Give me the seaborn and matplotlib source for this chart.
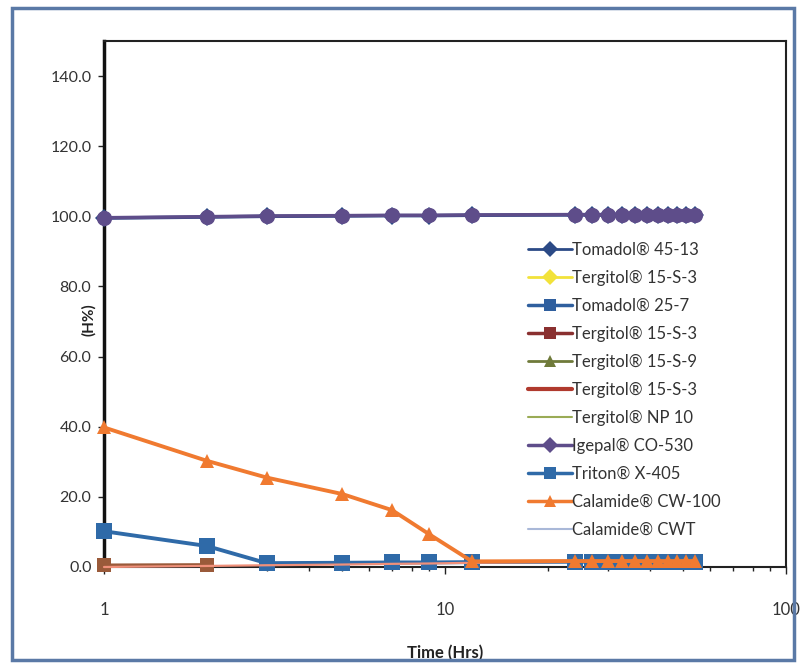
import numpy as np
import pandas as pd
import seaborn as sns
import matplotlib
matplotlib.use("Agg")
import matplotlib.pyplot as plt
from matplotlib.lines import Line2D
from matplotlib.patches import Rectangle
from matplotlib.ticker import FixedLocator, LogLocator, NullFormatter

# ---- data ----
time_hrs = [1, 2, 3, 5, 7, 9, 12, 24, 27, 30, 33, 36, 39, 42, 45, 48, 51, 54]
tomadol_45_13 = [99.5, 99.8, 100.0, 100.1, 100.2, 100.2, 100.3, 100.4, 100.4, 100.4,
                 100.4, 100.4, 100.5, 100.5, 100.5, 100.5, 100.5, 100.5]
igepal_co_530 = [99.6, 99.9, 100.1, 100.2, 100.3, 100.3, 100.4, 100.5, 100.5, 100.5,
                 100.5, 100.5, 100.5, 100.5, 100.5, 100.5, 100.5, 100.5]
triton_x_405 = [10.2, 6.0, 1.1, 1.2, 1.3, 1.3, 1.4, 1.5, 1.5, 1.5,
                1.5, 1.5, 1.5, 1.5, 1.5, 1.5, 1.5, 1.5]
calamide_cw_100 = [39.8, 30.3, 25.5, 20.8, 16.2, 9.3, 1.6, 1.7, 1.7, 1.7,
                   1.7, 1.7, 1.7, 1.7, 1.7, 1.7, 1.7, 1.7]
tergitol_15s3_sq = [0.6, 0.7]
tergitol_15s3_line = [0.0, 0.3, 0.5, 0.7, 0.9, 1.0, 1.2, 1.5, 1.5, 1.5,
                      1.5, 1.5, 1.5, 1.5, 1.5, 1.5, 1.5, 1.5]

legend_labels = ["Tomadol\u00ae 45-13", "Tergitol\u00ae 15-S-3", "Tomadol\u00ae 25-7",
                 "Tergitol\u00ae 15-S-3", "Tergitol\u00ae 15-S-9", "Tergitol\u00ae 15-S-3",
                 "Tergitol\u00ae NP 10", "Igepal\u00ae CO-530", "Triton\u00ae X-405",
                 "Calamide\u00ae CW-100", "Calamide\u00ae CWT"]
legend_colors = ["#2b4a86", "#f2e23a", "#2f5f9e", "#8a3030", "#6f7a3a", "#b03a2e",
                 "#9aab55", "#5e4d8a", "#2f6aa8", "#f07a30", "#a9b8d8"]
legend_markers = ["D", "D", "s", "s", "^", None, None, "D", "s", "^", None]
legend_lw = [2, 2, 2.5, 2.5, 2, 3, 1.5, 2.5, 2.5, 2.5, 1.5]

sns.set_theme(style="white")
plt.rcParams["font.family"] = ["Lato", "DejaVu Sans"]

fig = plt.figure(figsize=(8.02, 6.66), dpi=100)
ax = fig.add_axes([104 / 802, 1 - 567 / 666, (786 - 104) / 802, (567 - 41) / 666])

# near-zero salmon line
sns.lineplot(x=time_hrs, y=tergitol_15s3_line, ax=ax, color="#f0907a", lw=1.6, zorder=5)
# brown squares near zero
sns.lineplot(x=time_hrs[:2], y=tergitol_15s3_sq, ax=ax, color="#9a5a3a", marker="s",
             markersize=10, lw=2, markeredgewidth=0, zorder=4)
sns.lineplot(x=time_hrs, y=triton_x_405, ax=ax, color="#2f6aa8", marker="s",
             markersize=11, lw=2.8, markeredgewidth=0, zorder=4)
sns.lineplot(x=time_hrs, y=calamide_cw_100, ax=ax, color="#f07a30", marker="^",
             markersize=10, lw=2.8, markeredgewidth=0, zorder=5)
sns.lineplot(x=time_hrs, y=tomadol_45_13, ax=ax, color="#2b4a86", marker="D",
             markersize=9, lw=2.5, markeredgewidth=0, zorder=4)
sns.lineplot(x=time_hrs, y=igepal_co_530, ax=ax, color="#5e4d8a", marker="o",
             markersize=11, lw=2.5, markeredgewidth=0, zorder=5)
for ln in ax.lines:
    ln.set_clip_on(False)

ax.set_xscale("log")
ax.set_xlim(1, 100)
ax.set_ylim(0, 150)
ax.set_yticks(np.arange(0, 141, 20))
ax.set_yticklabels([f"{v:.1f}" for v in np.arange(0, 141, 20)], fontsize=11.5, color="#333333")
ax.xaxis.set_major_locator(FixedLocator([1, 10, 100]))
ax.set_xticklabels(["1", "10", "100"], fontsize=12, color="#333333")
ax.xaxis.set_minor_locator(LogLocator(base=10, subs=np.arange(2, 10)))
ax.xaxis.set_minor_formatter(NullFormatter())
ax.tick_params(axis="x", which="major", direction="out", length=5, width=1, color="#222222", pad=20, bottom=True)
ax.tick_params(axis="x", which="minor", direction="out", length=3, width=1, color="#222222", bottom=True)
ax.tick_params(axis="y", which="major", direction="out", length=4, width=1, color="#222222", left=True, pad=5)

for side in ["top", "right", "bottom"]:
    ax.spines[side].set_color("#222222")
    ax.spines[side].set_linewidth(1.5)
ax.spines["left"].set_color("#111111")
ax.spines["left"].set_linewidth(2.5)

ax.set_xlabel("Time (Hrs)", fontsize=12, fontweight="bold", color="#222222")
ax.xaxis.set_label_coords(0.5, -0.148)
ax.set_ylabel("(H%)", fontsize=11, fontweight="bold", color="#222222")
ax.yaxis.set_label_coords(-0.012, 0.47)

handles = []
for lab, c, m, lw in zip(legend_labels, legend_colors, legend_markers, legend_lw):
    handles.append(Line2D([0], [0], color=c, lw=lw, marker=m if m else None,
                          markersize=8, markeredgewidth=0, label=lab))
leg = ax.legend(handles=handles, loc="upper left", bbox_to_anchor=(0.605, 0.64),
                frameon=False, fontsize=12, labelspacing=0.72, handlelength=2.6,
                handletextpad=0.05, borderpad=0.2)
for t in leg.get_texts():
    t.set_color("#333333")

# outer frame
fig.patches.append(Rectangle((12 / 802, 6 / 666), 782 / 802, 652 / 666,
                             transform=fig.transFigure, fill=False,
                             edgecolor="#5a79a6", lw=2.5))

fig.savefig("out.png", dpi=100)
